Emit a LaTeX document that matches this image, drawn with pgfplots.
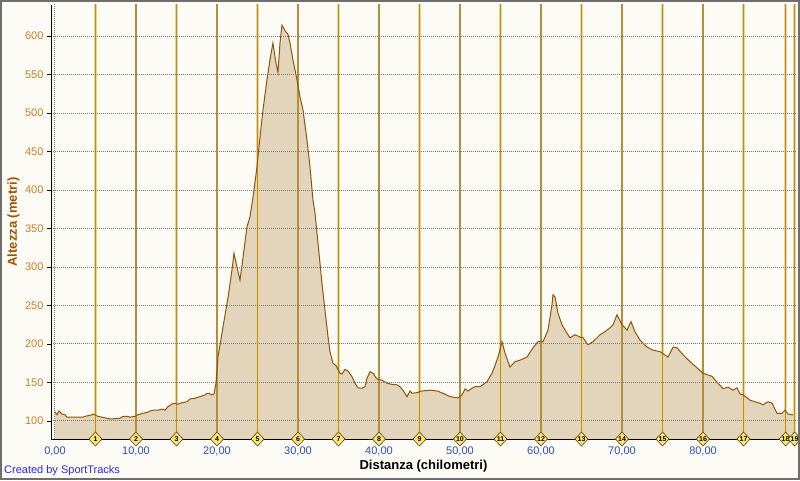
\documentclass[border=0pt]{standalone}
\usepackage{pgfplots}
\pgfplotsset{compat=1.18}
\usepackage{pgfplotstable}
\usepackage{fontspec}
\setmainfont{Liberation Sans}

\definecolor{bgc}{RGB}{252,251,245}
\definecolor{fillc}{RGB}{227,213,188}
\definecolor{linec}{RGB}{145,85,5}
\definecolor{goldl}{RGB}{240,212,135}
\definecolor{goldd}{RGB}{180,142,58}
\definecolor{ytl}{RGB}{200,128,40}
\definecolor{ylab}{RGB}{160,85,0}
\definecolor{xtl}{RGB}{40,80,190}
\definecolor{credit}{RGB}{40,40,240}
\definecolor{borderc}{RGB}{110,110,110}
\definecolor{diamf}{RGB}{250,230,120}
\definecolor{diamd}{RGB}{100,70,10}
\definecolor{gridc}{RGB}{120,120,120}

\pgfplotstableread{
x y
0.00 112
0.25 108
0.49 113
0.86 109
1.23 108
1.48 105
3.46 105
3.70 106
4.57 108
4.69 109
5.31 106
5.80 105
6.42 103.5
6.79 102.6
8.02 103.5
8.40 106
8.89 106
9.26 105
9.88 106
10.25 108
10.86 110
11.36 111
11.73 113
12.10 114
12.72 114
13.21 115.5
13.58 114
13.95 118.6
14.44 122
14.81 123
15.19 121.7
15.68 123.8
16.30 125
16.67 128.6
17.28 129.5
17.90 131.6
18.52 133.8
18.77 136
19.01 136
19.38 133.8
19.63 135
19.88 149
20.12 183
20.74 222
21.36 260
21.85 296
22.10 318
22.47 300
22.84 283
23.21 312
23.70 352
24.07 365
24.44 390
24.94 430
25.31 469
25.68 504
26.17 543
26.54 569
26.91 591
27.28 565
27.53 553
27.78 591
28.02 614
28.40 607
28.77 602
29.01 591
29.38 569
29.88 543
30.25 521
30.62 504
31.11 465
31.48 430
31.85 387
32.10 370
32.47 331
32.96 279
33.33 244
33.70 210
33.95 190
34.32 175
34.69 172
35.19 162
35.43 161
35.80 167
36.17 165
36.67 157.5
37.04 149
37.41 143
37.90 142.5
38.27 144.5
38.52 155.5
38.89 164
39.26 162
39.75 154.5
40.37 153
40.99 149
41.60 147.6
42.22 147
42.59 144.5
42.96 140
43.46 131.6
43.83 139
44.07 136
44.69 136.8
45.31 139
46.30 140
47.16 139
47.90 136
48.77 131.6
49.75 130
50.25 133.8
50.62 141.6
50.99 139
51.48 142.5
51.85 144.5
52.47 144.5
53.33 151
53.95 162
54.32 172
54.69 183
55.19 203
55.56 188
56.17 170
56.79 177
57.41 179
58.27 183
59.01 195
59.63 203
60.25 203
60.86 218
61.36 251
61.48 264
61.73 261
62.10 240
62.59 225
63.21 214
63.58 208
64.20 212
64.81 209
65.19 208
65.80 199
66.42 203
67.28 212
67.90 216
68.52 221
68.89 225
69.38 238
70.00 225
70.62 218
71.11 229
71.60 216
72.22 205
73.09 196
73.83 192
74.69 190
75.68 183
76.30 196
76.79 195
77.53 186
78.40 177
79.26 169
80.00 162
81.11 158
81.85 149
82.47 142
83.09 144
83.70 140
84.20 143
84.57 135
84.94 134
85.80 127
87.04 123
87.41 121
88.02 125
88.52 123
89.14 110
89.75 110
90.12 114
90.49 109
91.11 108
}\profile

\pgfplotstableread{
x base top lab
5 76.6 700 1
10 76.6 700 2
15 76.6 700 3
20 76.6 700 4
25 76.6 700 5
30 76.6 700 6
35 76.6 700 7
40 76.6 700 8
45 76.6 700 9
50 76.6 700 10
55 76.6 700 11
60 76.6 700 12
65 76.6 700 13
70 76.6 700 14
75 76.6 700 15
80 76.6 700 16
85 76.6 700 17
90.2 76.6 700 18
91.3 76.6 700 19
}\marks

\pgfplotsset{
  commonax/.style={
    at={(51pt,41pt)}, anchor=south west,
    scale only axis, width=745pt, height=434pt,
    xmin=-0.49, xmax=91.48, ymin=76.6, ymax=640.3,
  }
}

\begin{document}
\begin{tikzpicture}[x=1pt,y=1pt]
\fill[bgc] (0,0) rectangle (800,480);
\begin{axis}[
  commonax,
  axis x line*=bottom, axis y line*=left,
  axis line style={black, line width=1pt, -},
  axis on top,
  no markers,
  xtick={0,10,...,80},
  xticklabels={{0,00},{10,00},{20,00},{30,00},{40,00},{50,00},{60,00},{70,00},{80,00}},
  ytick={100,150,...,600},
  ymajorgrids=true, xmajorgrids=false,
  major grid style={gridc, line width=1pt, dash pattern=on 1pt off 1pt},
  tick align=outside, major tick length=4pt,
  ytick style={black, line width=0.8pt},
  xtick style={draw=none},
  /pgf/number format/assume math mode=true,
  yticklabel style={font=\fontsize{11}{13}\selectfont, text=ytl},
  xticklabel style={font=\fontsize{11}{13}\selectfont, text=xtl},
  xlabel={Distanza (chilometri)},
  xlabel style={font=\bfseries\fontsize{13}{15}\selectfont, text=black,
    at={(axis description cs:0.5,-0.0622)}, anchor=center},
  ylabel={Altezza (metri)},
  ylabel style={font=\bfseries\fontsize{13}{15}\selectfont, text=ylab,
    at={(axis description cs:-0.0503,0.5)}, anchor=center},
]
\addplot[fill=fillc, draw=none] table[x=x, y=y] {\profile} \closedcycle;
\addplot[ycomb, gridc, line width=1pt, dash pattern=on 1pt off 1pt] coordinates {(0,700)};
\addplot[ycomb, goldl, line width=2.4pt] table[x=x, y=top] {\marks};
\addplot[ycomb, goldd, line width=1.1pt] table[x=x, y=top] {\marks};
\addplot[linec, line width=1pt] table[x=x, y=y] {\profile};
\end{axis}
\begin{axis}[commonax, hide axis, clip=false]
\addplot[only marks, mark=diamond*, mark size=7pt,
  mark options={fill=diamf, draw=diamd, line width=0.6pt, xscale=1.25},
  point meta=explicit symbolic,
  nodes near coords,
  nodes near coords align={anchor=center},
  every node near coord/.append style={font=\bfseries\fontsize{7}{8}\selectfont, text=black, inner sep=0pt, anchor=center}
] table[x=x, y=base, meta=lab] {\marks};
\end{axis}
\node[anchor=west, text=credit, font=\fontsize{11}{13}\selectfont, inner sep=0pt] at (4,9) {Created by SportTracks};
\draw[borderc, line width=2pt] (1,1) rectangle (799,479);
\pgfresetboundingbox
\path[use as bounding box] (0,0) rectangle (800,480);
\end{tikzpicture}
\end{document}
